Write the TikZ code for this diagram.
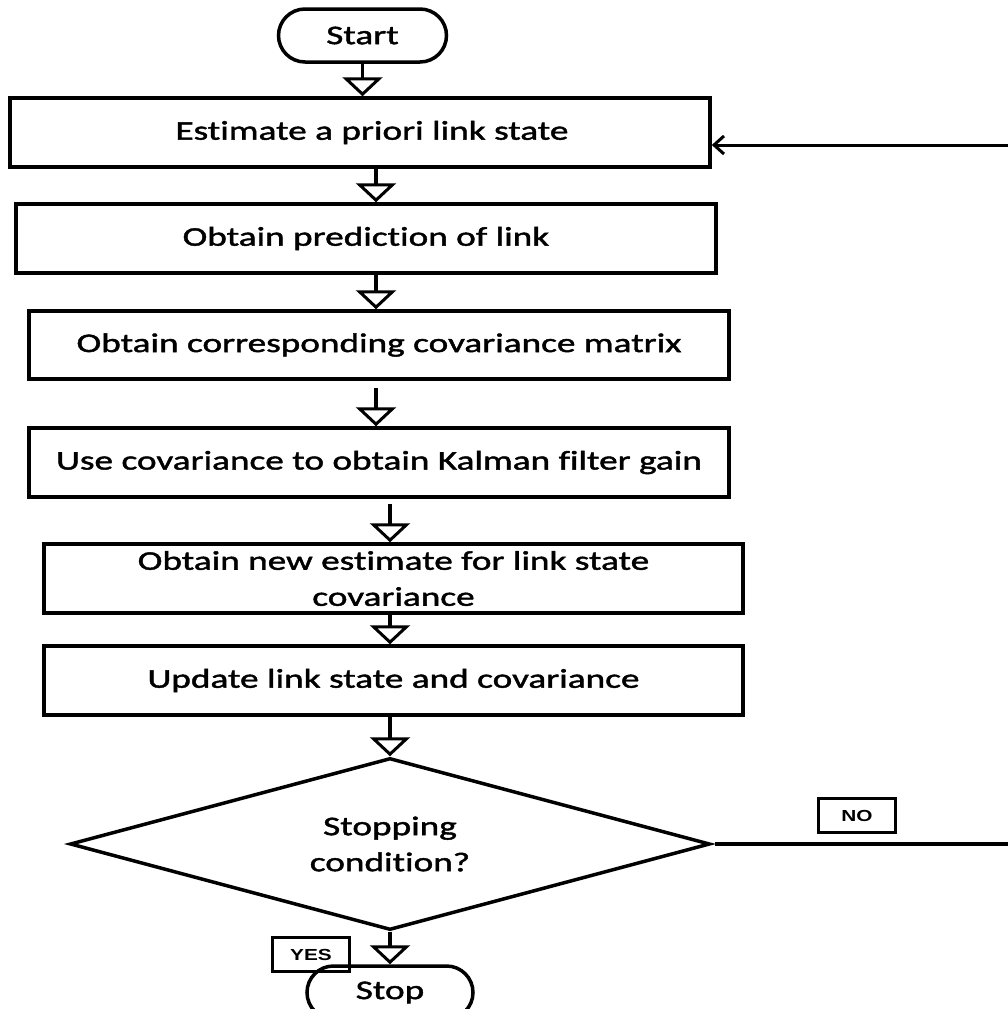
\documentclass[tikz,border=0pt]{standalone}
\usepackage{fontspec}
\setmainfont{Carlito}[FakeStretch=1.38, FakeBold=1.6, Ligatures=NoCommon]
\newfontfamily\tagfont{Liberation Sans}[FakeStretch=1.3]
\usetikzlibrary{arrows.meta,shapes.geometric,shapes.misc}

\tikzset{
	boxtext/.style={font=\fontsize{27}{36}\selectfont},
	process/.style={draw, line width=3.5pt, minimum width=700pt, minimum height=69pt, inner sep=0pt, align=center, boxtext},
	terminal/.style={draw, line width=3.5pt, rounded rectangle, minimum width=168pt, minimum height=53pt, inner sep=0pt, boxtext},
	decision/.style={draw, diamond, aspect=3.7, line width=3.5pt, minimum width=640pt, minimum height=172pt, inner sep=0pt, align=center, boxtext},
	tag/.style={draw, line width=3.5pt, minimum width=77pt, minimum height=34pt, inner sep=0pt, font=\tagfont\bfseries\fontsize{16}{18}\selectfont},
	flow/.style={line width=3.5pt, -{Triangle[open, width=40pt, length=19pt, line width=3pt]}},
	back/.style={line width=3pt, -{Straight Barb[length=10pt, width=18pt, line width=3pt]}}
}

\begin{document}
\begin{tikzpicture}[x=1pt, y=-1pt]
	\useasboundingbox (0,0) rectangle (1008,1009);
	% steps
	\node[terminal] (start) at (362.5,35.5) {Start};
	\node[process] (est) at (360,132.5) {\hspace*{24pt}Estimate a priori link state};
	\node[process] (pred) at (366,238.5) {Obtain prediction of link};
	\node[process, minimum height=68pt] (cov) at (379,345) {Obtain corresponding covariance matrix};
	\node[process] (gain) at (379,462.5) {Use covariance to obtain Kalman filter gain};
	\node[process, minimum width=699pt] (newest) at (393.5,578.5) {Obtain new estimate for link state\\covariance};
	\node[process, minimum width=699pt] (upd) at (393.5,680.5) {Update link state and covariance};
	\node[decision] (dec) at (390,844) {Stopping\\condition?};
	\node[terminal, minimum width=166pt] (stop) at (390,992.5) {Stop};
	\node[tag] (yes) at (311,954.5) {YES};
	\node[tag] (no) at (857,815.5) {NO};
	\coordinate (noend) at (1008,844);
	\coordinate (backend) at (1008,145);
	% connectors
	\draw[flow] (start.south) -- (start.south |- est.north);
	\draw[flow] ([xshift=16pt]est.south) -- ([xshift=10pt]pred.north);
	\draw[flow] ([xshift=10pt]pred.south) -- ([xshift=-3pt]cov.north);
	\draw[flow, shorten <=7pt] ([xshift=-3pt]cov.south) -- ([xshift=-3pt]gain.north);
	\draw[flow, shorten <=5pt] ([xshift=11pt]gain.south) -- ([xshift=-3.5pt]newest.north);
	\draw[flow] ([xshift=-3.5pt]newest.south) -- ([xshift=-3.5pt]upd.north);
	\draw[flow] ([xshift=-3.5pt]upd.south) -- (dec.north);
	\draw[flow] (dec.south) -- (stop.north);
	\draw[line width=3.5pt, shorten <=3pt] (dec.east) -- (noend);
	\draw[back] (backend) -- (backend -| est.east);
\end{tikzpicture}
\end{document}
